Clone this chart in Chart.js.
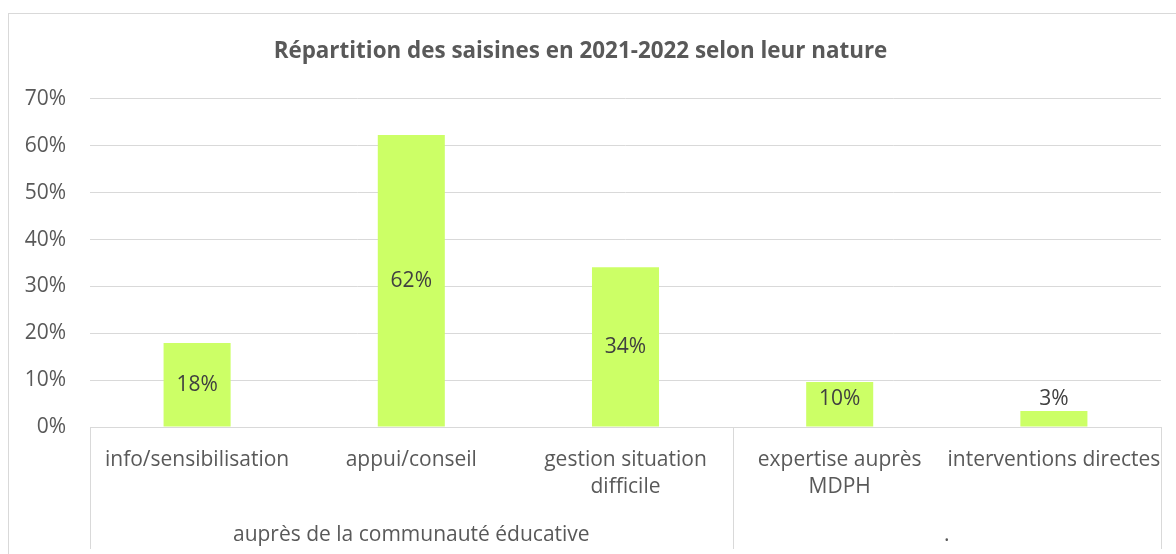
<!DOCTYPE html>
<html>
<head>
<meta charset="utf-8">
<script src="https://cdn.jsdelivr.net/npm/chart.js@4"></script>
<style>
  html, body { margin: 0; padding: 0; background: #fff; }
  #wrap { width: 1176px; height: 554px; }
</style>
</head>
<body>
<div id="wrap"><canvas id="saisinesChart" width="1176" height="554"></canvas></div>
<script>
var categories = [
    'info/sensibilisation',
    'appui/conseil',
    ['gestion situation', 'difficile'],
    ['expertise auprès', 'MDPH'],
    'interventions directes'
];
var groupLabels = ['auprès de la communauté éducative', '.'];
var groupSizes = [3, 2];
var values = [17.9, 62.3, 34.1, 9.6, 3.4];
var yTicks = [0, 10, 20, 30, 40, 50, 60, 70];

var FONT = '"Open Sans", sans-serif';
var GRID = '#d9d9d9';

// frame, bar labels, group labels, multi-level axis lines
var excelBits = {
    id: 'excelBits',
    beforeDraw: function (chart) {
        var ctx = chart.ctx;
        ctx.save();
        ctx.fillStyle = '#fff';
        ctx.fillRect(0, 0, chart.width, chart.height);
        ctx.strokeStyle = GRID;
        ctx.lineWidth = 1;
        ctx.strokeRect(8.5, 13.5, 1200, 600);
        ctx.restore();
    },
    afterDatasetsDraw: function (chart) {
        var ctx = chart.ctx;
        var area = chart.chartArea;
        var xs = chart.scales.x;
        ctx.save();

        // value labels
        ctx.font = '21px ' + FONT;
        ctx.fillStyle = '#404040';
        ctx.textAlign = 'center';
        ctx.textBaseline = 'middle';
        chart.getDatasetMeta(0).data.forEach(function (bar, i) {
            var y = Math.min((bar.y + bar.base) / 2, bar.base - 27);
            ctx.fillText(Math.round(values[i]) + '%', bar.x, y);
        });

        // axis lines of the two-level category axis
        ctx.strokeStyle = GRID;
        ctx.lineWidth = 1;
        var bottom = 549;
        var xsLines = [area.left];
        var idx = 0;
        groupSizes.forEach(function (n) {
            idx += n;
            if (idx < categories.length) {
                xsLines.push((xs.getPixelForValue(idx - 1) + xs.getPixelForValue(idx)) / 2);
            }
        });
        xsLines.push(area.right);
        ctx.beginPath();
        ctx.moveTo(area.left, Math.round(area.bottom) + 0.5);
        ctx.lineTo(area.right, Math.round(area.bottom) + 0.5);
        xsLines.forEach(function (x) {
            x = Math.round(x) + 0.5;
            ctx.moveTo(x, area.bottom);
            ctx.lineTo(x, bottom);
        });
        ctx.stroke();

        // group labels
        ctx.font = '21px ' + FONT;
        ctx.fillStyle = '#595959';
        groupSizes.forEach(function (n, g) {
            var x = (xsLines[g] + xsLines[g + 1]) / 2;
            ctx.fillText(groupLabels[g], x, 535);
        });
        ctx.restore();
    }
};

new Chart(document.getElementById('saisinesChart').getContext('2d'), {
    type: 'bar',
    data: {
        labels: categories,
        datasets: [{
            data: values,
            backgroundColor: '#ccff66',
            borderWidth: 0,
            barPercentage: 0.313,
            categoryPercentage: 1
        }]
    },
    options: {
        responsive: false,
        animation: false,
        layout: { padding: { left: 0, right: 15, top: 13, bottom: 0 } },
        plugins: {
            legend: { display: false },
            tooltip: { enabled: false },
            title: {
                display: true,
                text: 'Répartition des saisines en 2021-2022 selon leur nature',
                color: '#595959',
                font: { family: FONT, size: 22.4, weight: 'bold', lineHeight: 1.2 },
                padding: { top: 25.6, bottom: 33.5 }
            }
        },
        scales: {
            x: {
                grid: { display: false, drawTicks: false },
                border: { display: false },
                ticks: {
                    color: '#595959',
                    font: { family: FONT, size: 21, lineHeight: 1.286 },
                    padding: 19.5,
                    maxRotation: 0,
                    minRotation: 0,
                    autoSkip: false
                },
                afterFit: function (scale) {
                    scale.height = 127;
                    scale.paddingLeft = 0;
                    scale.paddingRight = 0;
                }
            },
            y: {
                min: 0,
                max: 70,
                afterBuildTicks: function (scale) {
                    scale.ticks = yTicks.map(function (v) { return { value: v }; });
                },
                grid: { color: GRID, lineWidth: 1, drawTicks: false },
                border: { display: false },
                ticks: {
                    color: '#595959',
                    font: { family: FONT, size: 21 },
                    padding: 24,
                    callback: function (v) { return v + '%'; }
                },
                afterFit: function (scale) { scale.width = 90; }
            }
        }
    },
    plugins: [excelBits]
});
</script>
</body>
</html>
